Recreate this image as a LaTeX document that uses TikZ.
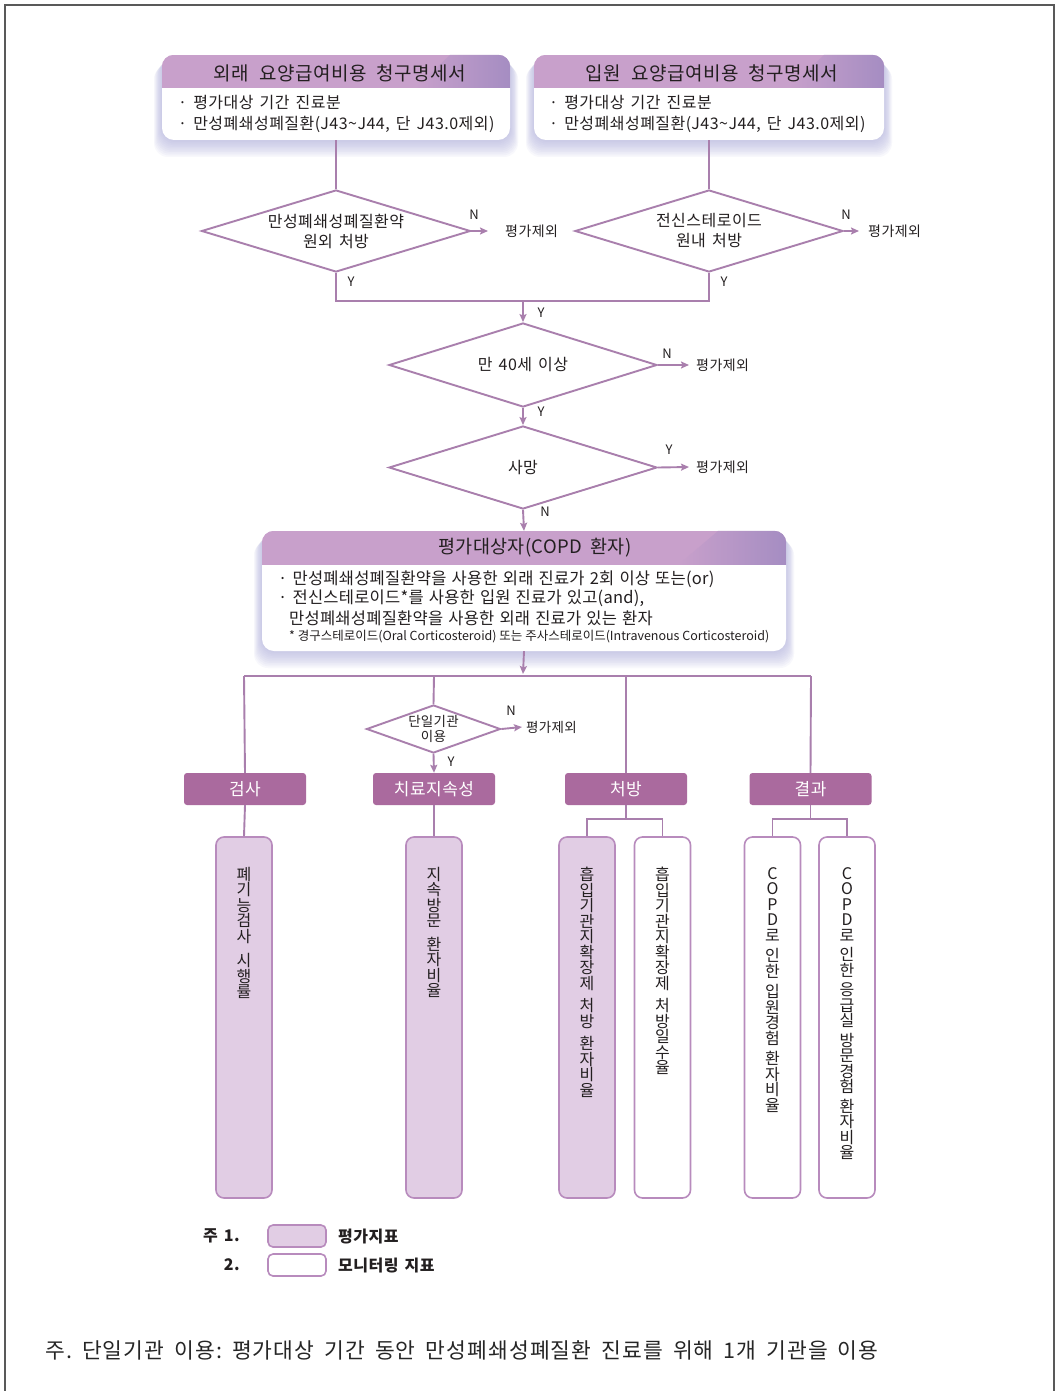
\documentclass[tikz,border=0pt]{standalone}
\usepackage{fontspec}
\setmainfont{Noto Sans CJK KR}
\usetikzlibrary{shapes.geometric,arrows.meta,calc}
\definecolor{linec}{HTML}{A97FAD}
\definecolor{headc}{HTML}{C8A0CB}
\definecolor{headd}{HTML}{A58DC2}
\definecolor{catc}{HTML}{AA6A9E}
\definecolor{lightc}{HTML}{E1CDE4}
\definecolor{boxb}{HTML}{B88BBD}
\definecolor{shadc}{HTML}{A9A9DA}
\definecolor{txt}{HTML}{231F20}
\newcommand\softshadow[4]{%
  \foreach \k in {1,...,10}{%
    \fill[shadc, opacity=0.08, rounded corners=14pt] (#1-\k*0.8, #2+\k*1.0) rectangle (#3+\k*0.8, #4+\k*1.7);
  }}
\newcommand\lsp[2]{\addfontfeatures{LetterSpace=#1}\spaceskip=#2\fontdimen2\font\relax}
\tikzset{
  ln/.style={draw=linec, line width=1.9pt},
  arr/.style={draw=linec, line width=1.9pt, -{Stealth[length=8pt,width=7pt,inset=1.5pt]}},
  dia/.style={diamond, draw=linec, line width=1.9pt, fill=white, aspect=3.3, inner sep=0pt, align=center, text=txt, font=\fontsize{16}{20}\selectfont\lsp{3}{1.5}},
  lab/.style={font=\fontsize{13}{14}\selectfont, text=txt, inner sep=0pt},
  ex/.style={font=\fontsize{14}{15}\selectfont\lsp{3}{1}, text=txt, inner sep=0pt, anchor=west},
  topbox/.style={rectangle, rounded corners=12pt, fill=white, minimum width=348pt, minimum height=85pt, inner sep=0pt},
  htext/.style={font=\fontsize{19}{21}\selectfont\lsp{3}{2}, text=txt, inner sep=0pt},
  btext/.style={font=\fontsize{16}{21}\selectfont\lsp{3}{1.5}, text=txt, inner sep=0pt, anchor=west, align=left},
  cat/.style={rectangle, rounded corners=3pt, fill=catc, minimum width=122pt, minimum height=32pt, inner sep=0pt, text=white, font=\fontsize{17}{18}\selectfont\lsp{3}{1}},
  ind/.style={rectangle, rounded corners=8pt, draw=boxb, line width=1.6pt, minimum width=56pt, minimum height=361pt, inner sep=0pt},
  vt/.style={align=center, font=\fontsize{16}{15.5}\selectfont, inner sep=0pt, anchor=north, text=txt},
  legbox/.style={rectangle, rounded corners=5pt, draw=boxb, line width=1.6pt, minimum width=58pt, minimum height=22pt, inner sep=0pt},
  legt/.style={font=\bfseries\fontsize{16}{17}\selectfont\lsp{3}{1.5}, text=txt, inner sep=0pt}
}
\begin{document}
\begin{tikzpicture}[x=1pt,y=-1pt]
\useasboundingbox (0,0) rectangle (1058,1391);
\fill[white] (0,0) rectangle (1058,1391);
\draw[draw=black!65, line width=1.2pt] (5,1391) -- (5,5) -- (1054,5) -- (1054,1391);

% ---------- top boxes ----------
\softshadow{162}{55}{510}{140}
\softshadow{534}{55}{884}{140}
\node[topbox] (boxL) at (336,97.5) {};
\node[topbox, minimum width=350pt] (boxR) at (709,97.5) {};
\begin{scope}
  \clip[rounded corners=12pt] (boxL.north west) rectangle (boxL.south east);
  \fill[headc] (boxL.north west) rectangle ([yshift=-33pt]boxL.north east);
  \shade[left color=headc, right color=headd] ([xshift=-60pt]boxL.north east) -- (boxL.north east) -- ([yshift=-33pt]boxL.north east) -- ([xshift=-95pt,yshift=-33pt]boxL.north east) -- cycle;
\end{scope}
\begin{scope}
  \clip[rounded corners=12pt] (boxR.north west) rectangle (boxR.south east);
  \fill[headc] (boxR.north west) rectangle ([yshift=-33pt]boxR.north east);
  \shade[left color=headc, right color=headd] ([xshift=-60pt]boxR.north east) -- (boxR.north east) -- ([yshift=-33pt]boxR.north east) -- ([xshift=-95pt,yshift=-33pt]boxR.north east) -- cycle;
\end{scope}
\node[htext] (hL) at (340,73) {외래 요양급여비용 청구명세서};
\node[htext] (hR) at (712,73) {입원 요양급여비용 청구명세서};
\node[btext] (bL) at (178,113.5) {· 평가대상 기간 진료분\\· 만성폐쇄성폐질환(J43\textasciitilde J44, 단 J43.0제외)};
\node[btext] (bR) at (549,113.5) {· 평가대상 기간 진료분\\· 만성폐쇄성폐질환(J43\textasciitilde J44, 단 J43.0제외)};

% ---------- first diamonds ----------
\node[dia, minimum width=269pt, minimum height=82pt] (d1) at (336,231) {만성폐쇄성폐질환약\\원외 처방};
\node[dia, minimum width=268pt, minimum height=82pt] (d2) at (709,231) {전신스테로이드\\원내 처방};
\draw[ln] (boxL.south) -- (d1.north);
\draw[ln] (boxR.south) -- (d2.north);
\coordinate (x1) at (488,231);
\coordinate (x2) at (859,231);
\draw[arr] (d1.east) -- (x1);
\draw[arr] (d2.east) -- (x2);
\node[lab] (n1) at (474,215) {N};
\node[lab] (n2) at (846,215) {N};
\node[ex] (e1) at (505,231) {평가제외};
\node[ex] (e2) at (868,231) {평가제외};
\node[lab] (y1) at (351,282) {Y};
\node[lab] (y2) at (724,282) {Y};
\coordinate (jL) at (336,301);
\coordinate (jR) at (709,301);
\coordinate (jM) at (523,301);
\draw[ln] (d1.south) -- (jL) -- (jR) -- (d2.south);

% ---------- age diamond ----------
\node[dia, minimum width=268pt, minimum height=84pt] (d3) at (523,365) {만 40세 이상};
\draw[arr] (jM) -- (d3.north);
\node[lab] (y3) at (541,313) {Y};
\coordinate (x3) at (689,365);
\draw[arr] (d3.east) -- (x3);
\node[lab] (n3) at (667,354) {N};
\node[ex] (e3) at (696,365) {평가제외};

% ---------- death diamond ----------
\node[dia, minimum width=268pt, minimum height=83pt] (d4) at (523,467.5) {사망};
\draw[arr] (d3.south) -- (d4.north);
\node[lab] (y4) at (541,412) {Y};
\coordinate (x4) at (689,467);
\draw[arr] (d4.east) -- (x4);
\node[lab] (y5) at (669,450) {Y};
\node[ex] (e4) at (696,467) {평가제외};

% ---------- target patients box ----------
\softshadow{262}{531}{786}{651}
\node[topbox, minimum width=524pt, minimum height=120pt] (boxM) at (524,591) {};
\begin{scope}
  \clip[rounded corners=12pt] (boxM.north west) rectangle (boxM.south east);
  \fill[headc] (boxM.north west) rectangle ([yshift=-34pt]boxM.north east);
  \shade[left color=headc, right color=headd] ([xshift=-68pt]boxM.north east) -- (boxM.north east) -- ([yshift=-34pt]boxM.north east) -- ([xshift=-108pt,yshift=-34pt]boxM.north east) -- cycle;
\end{scope}
\draw[arr] (d4.south) -- (boxM.north);
\node[lab] (n4) at (545,512) {N};
\node[htext, font=\fontsize{18.5}{20}\selectfont\lsp{2}{1.8}] (hM) at (535,548) {평가대상자(COPD 환자)};
\node[btext, font=\fontsize{16.5}{18}\selectfont\lsp{1.5}{1.3}] (m1) at (278,579) {· 만성폐쇄성폐질환약을 사용한 외래 진료가 2회 이상 또는(or)};
\node[btext, font=\fontsize{16.5}{18}\selectfont\lsp{1.5}{1.3}] (m2) at (278,598.5) {· 전신스테로이드*를 사용한 입원 진료가 있고(and),};
\node[btext, font=\fontsize{16.5}{18}\selectfont\lsp{1.5}{1.3}] (m3) at (289,618) {만성폐쇄성폐질환약을 사용한 외래 진료가 있는 환자};
\node[btext, font=\fontsize{12.5}{14}\selectfont\lsp{0}{1}] (m4) at (289,636.5) {* 경구스테로이드(Oral Corticosteroid) 또는 주사스테로이드(Intravenous Corticosteroid)};

% ---------- distribution ----------
\coordinate (hb) at (523,676);
\coordinate (h1) at (244,676);
\coordinate (h2) at (434,676);
\coordinate (h3) at (626,676);
\coordinate (h4) at (811,676);
\draw[ln] (h1) -- (h4);
\draw[arr] (boxM.south) -- ([yshift=2pt]hb);

\node[cat] (c1) at (245,789) {검사};
\node[cat] (c2) at (434,789) {치료지속성};
\node[cat] (c3) at (626,789) {처방};
\node[cat] (c4) at (810.5,789) {결과};

\node[dia, aspect=2.8, minimum width=134pt, minimum height=48pt, font=\fontsize{13.5}{15}\selectfont\lsp{2}{1}] (d5) at (433.5,729) {단일기관\\이용};
\draw[ln] (h1) -- (c1.north);
\draw[ln] (h2) -- (d5.north);
\draw[ln] (h3) -- (c3.north);
\draw[ln] (h4) -- (c4.north);
\draw[arr] (d5.south) -- (c2.north);
\node[lab] (y6) at (451,762) {Y};
\coordinate (x5) at (522,727);
\draw[arr] (d5.east) -- (x5);
\node[lab] (n5) at (511,711) {N};
\node[ex, font=\fontsize{13.5}{14}\selectfont\lsp{2}{1}] (e5) at (526,727) {평가제외};

% ---------- indicator boxes ----------
\node[ind, fill=lightc] (i1) at (244,1017.5) {};
\node[ind, fill=lightc] (i2) at (434,1017.5) {};
\node[ind, fill=lightc] (i3) at (587,1017.5) {};
\node[ind, fill=white] (i4) at (662.5,1017.5) {};
\node[ind, fill=white] (i5) at (772.5,1017.5) {};
\node[ind, fill=white] (i6) at (847,1017.5) {};

\draw[ln] (c1.south) -- (i1.north);
\draw[ln] (c2.south) -- (i2.north);
\coordinate (p0) at (626,819);
\coordinate (p1) at (587,819);
\coordinate (p2) at (662.5,819);
\draw[ln] (c3.south) -- (p0);
\draw[ln] (i3.north) -- (p1) -- (p2) -- (i4.north);
\coordinate (r0) at (810.5,819);
\coordinate (r1) at (772.5,819);
\coordinate (r2) at (847,819);
\draw[ln] (c4.south) -- (r0);
\draw[ln] (i5.north) -- (r1) -- (r2) -- (i6.north);

\node[vt] (v1) at (244,867) {폐\\기\\능\\검\\사\\[9pt]시\\행\\률};
\node[vt] (v2) at (434,867) {지\\속\\방\\문\\[8pt]환\\자\\비\\율};
\node[vt] (v3) at (587,867) {흡\\입\\기\\관\\지\\확\\장\\제\\[7pt]처\\방\\[7pt]환\\자\\비\\율};
\node[vt] (v4) at (662.5,867) {흡\\입\\기\\관\\지\\확\\장\\제\\[7pt]처\\방\\일\\수\\율};
\node[vt] (v5) at (772.5,867) {C\\O\\P\\D\\로\\[5pt]인\\한\\[5pt]입\\원\\경\\험\\[5pt]환\\자\\비\\율};
\node[vt] (v6) at (847,867) {C\\O\\P\\D\\로\\[4pt]인\\한\\[4pt]응\\급\\실\\[4pt]방\\문\\경\\험\\[4pt]환\\자\\비\\율};

% ---------- legend ----------
\node[legbox, fill=lightc] (l1) at (297,1236) {};
\node[legbox, fill=white] (l2) at (297,1265) {};
\node[legt, anchor=east] (lt1) at (240,1236) {주 1.};
\node[legt, anchor=east] (lt2) at (240,1265) {2.};
\node[legt, anchor=west] (lt3) at (338,1236) {평가지표};
\node[legt, anchor=west] (lt4) at (338,1265) {모니터링 지표};

% ---------- footnote ----------
\node[inner sep=0pt, anchor=west, text=black!85, font=\fontsize{21.5}{23}\selectfont\lsp{5}{1.7}] (fn) at (45,1350) {주.\ 단일기관 이용:\ 평가대상 기간 동안 만성폐쇄성폐질환 진료를 위해 1개 기관을 이용};
\end{tikzpicture}
\end{document}
